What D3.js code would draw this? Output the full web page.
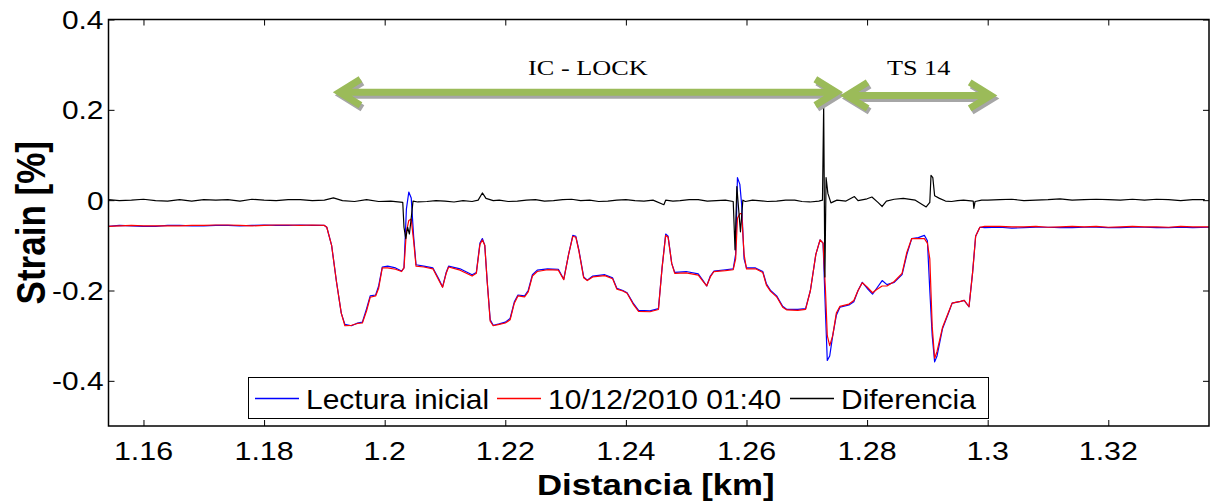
<!DOCTYPE html>
<html>
<head>
<meta charset="utf-8">
<script src="https://cdn.jsdelivr.net/npm/d3@7"></script>
<style>
  html, body { margin: 0; padding: 0; background: #fff; }
  svg { display: block; }
</style>
</head>
<body>
<svg id="chart" width="1213" height="504"></svg>
<script>
// Distance along the fibre [km] and strain [%] for both readings
const distancia = [
  1.1542, 1.156, 1.158, 1.160, 1.162, 1.164, 1.166, 1.168, 1.170, 1.172,
  1.174, 1.176, 1.178, 1.180, 1.182, 1.184, 1.186, 1.188, 1.1900,
  1.1904, 1.1912, 1.1920, 1.1928, 1.1934, 1.1945, 1.1955, 1.1963, 1.1970, 1.1976,
  1.1985, 1.1990, 1.1996, 1.2005, 1.2018, 1.2028, 1.2032, 1.2036, 1.2040, 1.2044,
  1.2048, 1.2052, 1.2065, 1.2080, 1.2090, 1.2096, 1.2102, 1.2106, 1.2125, 1.2145,
  1.2152, 1.2158, 1.2162, 1.2166, 1.2170, 1.2175, 1.2180, 1.2190, 1.2200, 1.2208,
  1.2215, 1.2221, 1.2232, 1.2238, 1.2245, 1.2253, 1.2270, 1.2288, 1.2297, 1.2305,
  1.2312, 1.2317, 1.2322, 1.2330, 1.2336, 1.2345, 1.2365, 1.2378, 1.2385, 1.2395,
  1.2402, 1.2412, 1.2421, 1.2440, 1.2454, 1.2460, 1.2466, 1.2470, 1.2476, 1.2481,
  1.2500, 1.2520, 1.2528, 1.2534, 1.2540, 1.2546, 1.2565, 1.2578, 1.2582, 1.2585,
  1.2589, 1.2592, 1.2596, 1.2600, 1.2615, 1.2627, 1.2633, 1.2640, 1.2650, 1.2660,
  1.2667, 1.2685, 1.2698, 1.2706, 1.2715, 1.2722, 1.2727, 1.2731, 1.2734, 1.2738,
  1.2743, 1.2749, 1.2755, 1.2770, 1.2778, 1.2785, 1.2792, 1.2800, 1.2809, 1.2816,
  1.2825, 1.2833, 1.2845, 1.2858, 1.2866, 1.2874, 1.2885, 1.2895, 1.2900, 1.2904,
  1.2908, 1.2912, 1.2916, 1.2925, 1.2935, 1.2941, 1.2955, 1.2961, 1.2969, 1.2975,
  1.2980, 1.2987, 1.2995, 1.302, 1.304, 1.306, 1.308, 1.310, 1.312, 1.314,
  1.316, 1.318, 1.320, 1.322, 1.324, 1.326, 1.328, 1.330, 1.332, 1.334, 1.3367
];

const lecturaInicial = [
  -0.058, -0.056, -0.057, -0.058, -0.058, -0.056, -0.056, -0.057, -0.057, -0.056,
  -0.056, -0.057, -0.056, -0.055, -0.056, -0.056, -0.055, -0.056, -0.056,
  -0.060, -0.100, -0.180, -0.250, -0.275, -0.278, -0.272, -0.270, -0.240, -0.212,
  -0.210, -0.190, -0.148, -0.146, -0.150, -0.157, -0.150, -0.020, 0.018, 0.005,
  -0.080, -0.143, -0.146, -0.150, -0.175, -0.192, -0.160, -0.146, -0.152, -0.165,
  -0.160, -0.095, -0.085, -0.100, -0.180, -0.265, -0.277, -0.274, -0.270, -0.262,
  -0.225, -0.210, -0.212, -0.200, -0.165, -0.155, -0.152, -0.153, -0.175, -0.120,
  -0.078, -0.080, -0.110, -0.170, -0.177, -0.168, -0.165, -0.172, -0.195, -0.200,
  -0.205, -0.228, -0.244, -0.245, -0.240, -0.150, -0.075, -0.080, -0.140, -0.160,
  -0.158, -0.163, -0.178, -0.190, -0.168, -0.157, -0.154, -0.152, -0.120, 0.050,
  0.035, -0.010, -0.130, -0.150, -0.150, -0.158, -0.185, -0.200, -0.212, -0.235,
  -0.242, -0.242, -0.240, -0.200, -0.120, -0.088, -0.095, -0.250, -0.355, -0.345,
  -0.300, -0.255, -0.237, -0.232, -0.225, -0.200, -0.182, -0.195, -0.208, -0.195,
  -0.178, -0.187, -0.182, -0.165, -0.120, -0.085, -0.083, -0.078, -0.090, -0.200,
  -0.300, -0.358, -0.345, -0.285, -0.250, -0.228, -0.224, -0.222, -0.236, -0.160,
  -0.080, -0.060, -0.061, -0.060, -0.062, -0.061, -0.060, -0.060, -0.061, -0.061,
  -0.060, -0.060, -0.061, -0.061, -0.060, -0.060, -0.061, -0.061, -0.060, -0.061, -0.060
];

const lecturaActual = [
  -0.058, -0.057, -0.056, -0.057, -0.057, -0.057, -0.057, -0.056, -0.056, -0.055,
  -0.055, -0.056, -0.057, -0.056, -0.055, -0.055, -0.056, -0.055, -0.056,
  -0.060, -0.100, -0.180, -0.250, -0.278, -0.277, -0.273, -0.272, -0.245, -0.215,
  -0.212, -0.195, -0.150, -0.150, -0.153, -0.158, -0.150, -0.070, -0.045, -0.042,
  -0.090, -0.146, -0.148, -0.152, -0.178, -0.193, -0.162, -0.148, -0.155, -0.168,
  -0.162, -0.098, -0.088, -0.100, -0.180, -0.268, -0.278, -0.275, -0.272, -0.265,
  -0.228, -0.212, -0.214, -0.203, -0.168, -0.158, -0.154, -0.155, -0.176, -0.120,
  -0.080, -0.082, -0.112, -0.172, -0.178, -0.170, -0.167, -0.174, -0.197, -0.201,
  -0.206, -0.230, -0.246, -0.247, -0.242, -0.150, -0.078, -0.082, -0.140, -0.162,
  -0.161, -0.166, -0.180, -0.190, -0.170, -0.158, -0.156, -0.154, -0.130, -0.040,
  -0.030, -0.030, -0.120, -0.152, -0.152, -0.160, -0.188, -0.202, -0.214, -0.237,
  -0.243, -0.244, -0.242, -0.200, -0.120, -0.088, -0.095, -0.200, -0.300, -0.322,
  -0.300, -0.250, -0.235, -0.230, -0.222, -0.200, -0.183, -0.192, -0.205, -0.198,
  -0.190, -0.190, -0.180, -0.162, -0.115, -0.085, -0.085, -0.085, -0.095, -0.130,
  -0.280, -0.350, -0.335, -0.282, -0.248, -0.228, -0.224, -0.222, -0.236, -0.160,
  -0.080, -0.060, -0.058, -0.058, -0.059, -0.059, -0.058, -0.060, -0.059, -0.058,
  -0.059, -0.058, -0.060, -0.059, -0.058, -0.059, -0.059, -0.060, -0.058, -0.059, -0.059
];

// Difference between the two readings
const distanciaDif = [
  1.1542, 1.156, 1.158, 1.160, 1.162, 1.164, 1.166, 1.168, 1.170, 1.172,
  1.174, 1.176, 1.178, 1.180, 1.182, 1.184, 1.186, 1.188, 1.190,
  1.1915, 1.193, 1.195, 1.197, 1.199, 1.201, 1.2030, 1.2032, 1.2035, 1.2038,
  1.2041, 1.2044, 1.2047, 1.2055, 1.207, 1.2085, 1.210, 1.2115, 1.213, 1.2145,
  1.2155, 1.2162, 1.2168, 1.218, 1.219, 1.2205, 1.222, 1.2235, 1.225, 1.2265,
  1.228, 1.2295, 1.231, 1.2325, 1.234, 1.2355, 1.237, 1.2385, 1.240, 1.2415,
  1.243, 1.2445, 1.2463, 1.2466, 1.2478, 1.249, 1.2505, 1.252, 1.2535, 1.255,
  1.2565, 1.2578, 1.2581, 1.2584, 1.2587, 1.2590, 1.2594, 1.2598, 1.261, 1.262,
  1.2635, 1.265, 1.2665, 1.268, 1.2692, 1.2705, 1.2720, 1.2726, 1.2728, 1.2730,
  1.2732, 1.2735, 1.2740, 1.275, 1.2765, 1.2779, 1.2785, 1.2800, 1.2808, 1.2818,
  1.2825, 1.2832, 1.2845, 1.2860, 1.2880, 1.2898, 1.2904, 1.2906, 1.2909, 1.2912,
  1.2920, 1.293, 1.294, 1.295, 1.296, 1.2976, 1.2977, 1.2979, 1.299, 1.300,
  1.302, 1.304, 1.306, 1.308, 1.310, 1.312, 1.314, 1.316, 1.318, 1.320,
  1.322, 1.324, 1.326, 1.328, 1.330, 1.332, 1.334, 1.336
];

const diferencia = [
  0.001, -0.001, 0.000, 0.002, -0.001, -0.002, 0.001, -0.002, 0.001, 0.000,
  0.001, -0.002, 0.002, 0.000, -0.001, 0.001, 0.001, -0.001, 0.000,
  0.005, -0.001, -0.003, 0.001, -0.003, -0.002, -0.005, -0.060, -0.085, -0.060,
  -0.075, -0.040, -0.002, -0.004, -0.003, -0.001, -0.002, -0.004, -0.001, -0.003,
  0.000, 0.016, 0.004, -0.001, 0.000, -0.003, -0.002, 0.000, 0.001, -0.002,
  -0.001, 0.001, 0.002, -0.001, 0.000, -0.003, -0.002, 0.000, 0.001, -0.001,
  -0.002, 0.000, -0.010, 0.000, -0.002, -0.001, 0.001, 0.001, -0.002, -0.001,
  0.000, -0.003, -0.110, 0.030, -0.020, -0.070, 0.000, -0.003, 0.000, -0.001,
  -0.003, -0.002, 0.000, 0.000, -0.003, -0.004, -0.002, 0.000, 0.210, -0.170,
  0.050, 0.015, -0.006, 0.000, -0.002, 0.008, -0.001, 0.003, 0.007, -0.005,
  -0.014, -0.002, 0.002, 0.004, 0.000, -0.015, -0.005, 0.055, 0.050, 0.010,
  0.004, -0.002, -0.003, -0.001, 0.000, -0.002, -0.018, -0.003, 0.000, 0.000,
  0.001, 0.002, -0.001, 0.000, 0.001, 0.003, 0.000, 0.001, 0.002, 0.001,
  0.000, 0.002, 0.000, 0.002, 0.001, -0.001, 0.001, 0.001
];

const xTicks = [1.16, 1.18, 1.20, 1.22, 1.24, 1.26, 1.28, 1.30, 1.32];
const xTickLabels = ["1.16", "1.18", "1.2", "1.22", "1.24", "1.26", "1.28", "1.3", "1.32"];
const yTicks = [-0.4, -0.2, 0, 0.2, 0.4];
const yTickLabels = ["-0.4", "-0.2", "0", "0.2", "0.4"];

const seriesNames = ["Lectura inicial", "10/12/2010 01:40", "Diferencia"];
const seriesColors = ["#0000ff", "#ff0000", "#000000"];

// Section markers drawn above the profile: [start km, end km, strain level]
const tramos = ["IC - LOCK", "TS 14"];
const tramoInicio = [1.1925, 1.2766];
const tramoFin = [1.2749, 1.3005];
const tramoNivel = [0.239, 0.232];
const tramoTextoNivel = [0.277, 0.277];

// ---- layout ----
const plot = { left: 108.5, right: 1209, top: 19.5, bottom: 426 };

const x = d3.scaleLinear().domain([1.1542, 1.3367]).range([plot.left, plot.right]);
const y = d3.scaleLinear().domain([-0.5, 0.4]).range([plot.bottom, plot.top]);

const svg = d3.select("#chart");
const FONT = "Liberation Sans, Arial, Helvetica, sans-serif";

// Text with a horizontal stretch factor
function label(g, px, py, str, o) {
  const sx = o.sx || 1;
  return g.append("text")
    .attr("transform", `translate(${px},${py}) scale(${sx},1)`)
    .attr("font-family", o.family || FONT)
    .attr("font-size", o.size)
    .attr("font-weight", o.weight || "normal")
    .attr("text-anchor", o.anchor || "start")
    .attr("fill", "#000")
    .text(str);
}

// clip for data lines
svg.append("defs").append("clipPath").attr("id", "plotClip")
  .append("rect")
  .attr("x", plot.left).attr("y", plot.top)
  .attr("width", plot.right - plot.left).attr("height", plot.bottom - plot.top);

// ---- data lines ----
const lineGen = d3.line().x(d => x(d[0])).y(d => y(d[1]));
const linesG = svg.append("g").attr("clip-path", "url(#plotClip)");

const serieData = [
  distancia.map((d, i) => [d, lecturaInicial[i]]),
  distancia.map((d, i) => [d, lecturaActual[i]]),
  distanciaDif.map((d, i) => [d, diferencia[i]])
];
serieData.forEach((pts, i) => {
  linesG.append("path")
    .attr("d", lineGen(pts))
    .attr("fill", "none")
    .attr("stroke", seriesColors[i])
    .attr("stroke-width", 1.2)
    .attr("stroke-linejoin", "round");
});

// ---- axes box with inward ticks ----
const axG = svg.append("g");
const tickLen = 6;
const xAxisBottom = d3.axisBottom(x).tickValues(xTicks).tickSize(-tickLen).tickFormat("");
const xAxisTop = d3.axisTop(x).tickValues(xTicks).tickSize(-tickLen).tickFormat("");
const yAxisLeft = d3.axisLeft(y).tickValues(yTicks).tickSize(-tickLen).tickFormat("");
const yAxisRight = d3.axisRight(y).tickValues(yTicks).tickSize(-tickLen).tickFormat("");

[[xAxisBottom, `translate(0,${plot.bottom})`], [xAxisTop, `translate(0,${plot.top})`],
 [yAxisLeft, `translate(${plot.left},0)`], [yAxisRight, `translate(${plot.right},0)`]]
  .forEach(([ax, tr]) => {
    const g = axG.append("g").attr("transform", tr).call(ax);
    g.select(".domain").remove();
    g.selectAll(".tick line").attr("stroke", "#000").attr("stroke-width", 1);
  });

axG.append("rect")
  .attr("x", plot.left).attr("y", plot.top)
  .attr("width", plot.right - plot.left).attr("height", plot.bottom - plot.top)
  .attr("fill", "none").attr("stroke", "#000").attr("stroke-width", 1.5);

// tick labels
xTicks.forEach((v, i) => {
  label(svg, x(v), 460, xTickLabels[i], { size: 26, sx: 1.17, anchor: "middle" });
});
yTicks.forEach((v, i) => {
  label(svg, plot.left - 5, y(v) + 9.5, yTickLabels[i], { size: 26, sx: 1.15, anchor: "end" });
});

// axis titles
label(svg, (plot.left + plot.right) / 2 - 3, 495, "Distancia [km]",
  { size: 30, sx: 1.16, weight: "bold", anchor: "middle" });
svg.append("text")
  .attr("transform", `translate(45,${(plot.top + plot.bottom) / 2}) rotate(-90) scale(1,1.15)`)
  .attr("font-family", FONT).attr("font-size", 35).attr("font-weight", "bold")
  .attr("text-anchor", "middle").text("Strain [%]");

// ---- legend ----
const leg = svg.append("g");
const legBox = { x0: 248.5, x1: 988.5, y0: 377.5, y1: 418.5 };
leg.append("rect")
  .attr("x", legBox.x0).attr("y", legBox.y0)
  .attr("width", legBox.x1 - legBox.x0).attr("height", legBox.y1 - legBox.y0)
  .attr("fill", "#fff").attr("stroke", "#000").attr("stroke-width", 1);
const legStarts = [255, 497, 790];
const legMid = 398.5;
seriesNames.forEach((name, i) => {
  leg.append("line")
    .attr("x1", legStarts[i]).attr("x2", legStarts[i] + 44)
    .attr("y1", legMid).attr("y2", legMid)
    .attr("stroke", seriesColors[i]).attr("stroke-width", 1.5);
  label(leg, legStarts[i] + 51, legMid + 10, name, { size: 27, sx: 1.11 });
});

// ---- section arrows ----
const GREEN = "#9bbb59", SHADOW = "#a6a6a6";
function dblArrow(g, x0, x1, yy, color, dx, dy) {
  const hl = 21, hw = 13;
  const p = d3.path();
  p.moveTo(x0 + dx + 3, yy + dy); p.lineTo(x1 + dx - 3, yy + dy);
  p.moveTo(x0 + hl + dx, yy - hw + dy); p.lineTo(x0 + dx, yy + dy); p.lineTo(x0 + hl + dx, yy + hw + dy);
  p.moveTo(x1 - hl + dx, yy - hw + dy); p.lineTo(x1 + dx, yy + dy); p.lineTo(x1 - hl + dx, yy + hw + dy);
  g.append("path").attr("d", p.toString())
    .attr("fill", "none").attr("stroke", color).attr("stroke-width", 7)
    .attr("stroke-linejoin", "miter").attr("stroke-linecap", "butt");
}
const arrG = svg.append("g");
tramos.forEach((t, i) => {
  dblArrow(arrG, x(tramoInicio[i]), x(tramoFin[i]), y(tramoNivel[i]), SHADOW, 2, 3);
});
tramos.forEach((t, i) => {
  dblArrow(arrG, x(tramoInicio[i]), x(tramoFin[i]), y(tramoNivel[i]), GREEN, 0, 0);
  label(arrG, (x(tramoInicio[i]) + x(tramoFin[i])) / 2, y(tramoTextoNivel[i]), t,
    { size: 21, sx: 1.25, anchor: "middle", family: "Liberation Serif, Times New Roman, serif" });
});
</script>
</body>
</html>
